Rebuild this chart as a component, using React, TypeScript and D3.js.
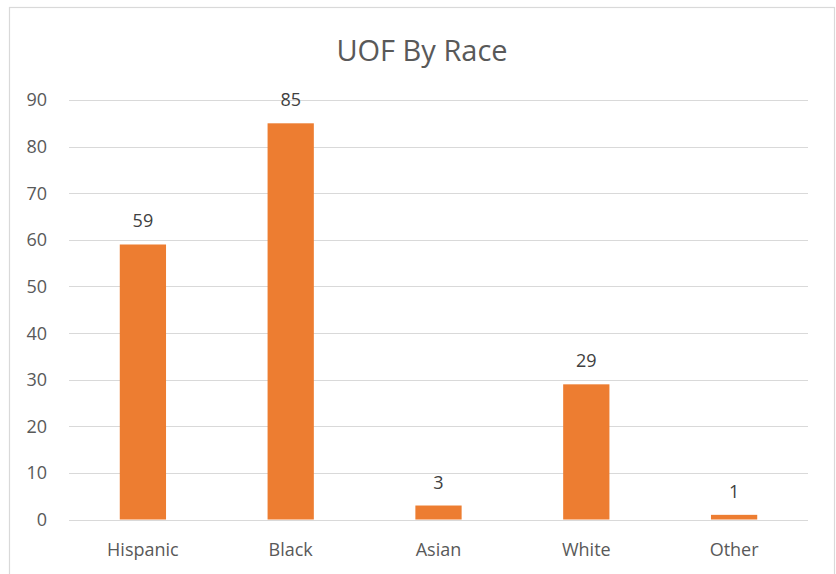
import React from 'react';
import * as d3 from 'd3';

const categories = ['Hispanic', 'Black', 'Asian', 'White', 'Other'];
const counts = [59, 85, 3, 29, 1];
const yTicks = [0, 10, 20, 30, 40, 50, 60, 70, 80, 90];

const W = 836;
const H = 574;
const plot = { left: 69, right: 808, top: 100, bottom: 519.5 };
const textColor = '#595959';
const font = "'Open Sans', 'Liberation Sans', sans-serif";

const App = () => {
    const x = d3.scaleBand<string>()
        .domain(categories)
        .range([plot.left, plot.right])
        .paddingInner(0.687)
        .paddingOuter(0.3435);

    const y = d3.scaleLinear()
        .domain([0, 90])
        .range([plot.bottom, plot.top]);

    return (
        <svg width={W} height={H} style={{ position: 'fixed', top: 0, left: 0, background: '#fff' }} fontFamily={font}>
            <rect x={9.5} y={7.5} width={825} height={620} fill="#fff" stroke="#d9d9d9" strokeWidth={1.2} />

            <text x={422} y={61} textAnchor="middle" fontSize={29} fill={textColor}>UOF By Race</text>

            {/* gridlines + y labels */}
            {yTicks.map(t => (
                <g key={t}>
                    <line x1={plot.left} x2={plot.right} y1={Math.round(y(t)) + 0.5} y2={Math.round(y(t)) + 0.5}
                        stroke="#d9d9d9" strokeWidth={1.2} />
                    <text x={47} y={y(t)} dy="0.36em" textAnchor="end" fontSize={18} fill={textColor}>{t}</text>
                </g>
            ))}

            {/* bars */}
            {categories.map((c, i) => (
                <g key={c}>
                    <rect x={x(c)} y={y(counts[i])} width={x.bandwidth()} height={plot.bottom - y(counts[i])}
                        fill="#ED7D31" />
                    <text x={x(c)! + x.bandwidth() / 2} y={y(counts[i]) - 17} textAnchor="middle"
                        fontSize={18} fill="#404040">{counts[i]}</text>
                    <text x={x(c)! + x.bandwidth() / 2} y={556} textAnchor="middle"
                        fontSize={18} fill={textColor}>{c}</text>
                </g>
            ))}
        </svg>
    );
};

export default App;
